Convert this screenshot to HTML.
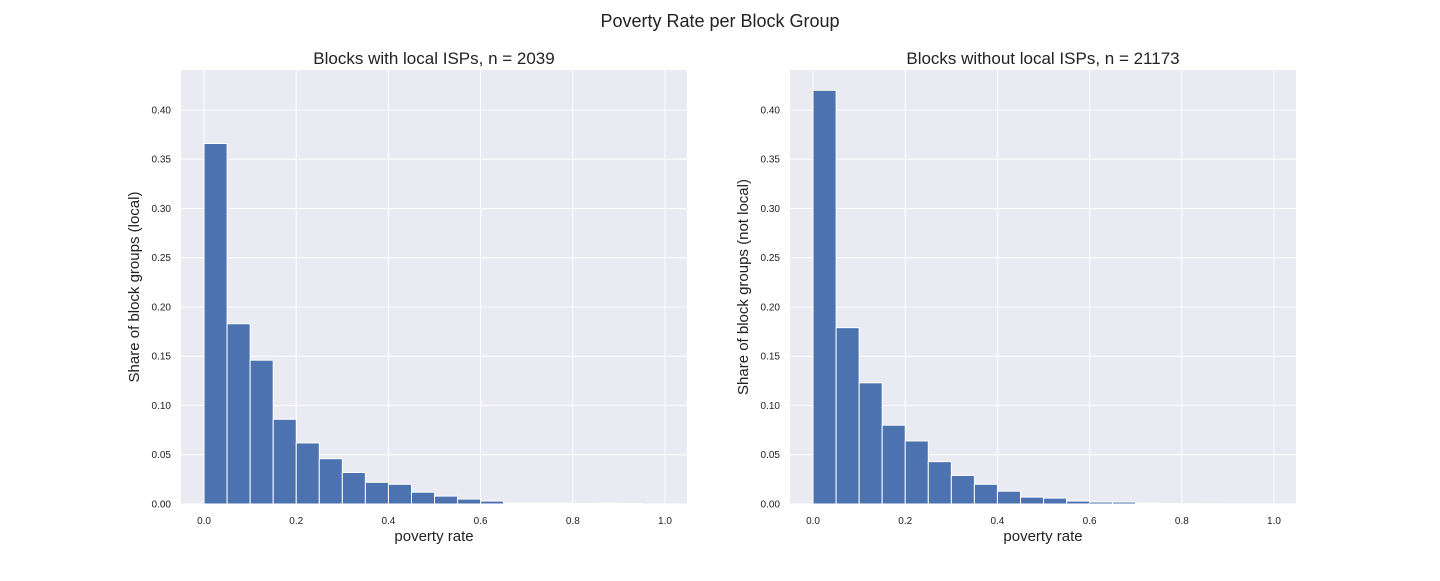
<!DOCTYPE html>
<html><head><meta charset="utf-8"><style>
body{margin:0;background:#fff;font-family:"Liberation Sans",sans-serif}
</style></head><body>
<svg id="fig" width="1440" height="576" xmlns="http://www.w3.org/2000/svg">
<text x="720" y="27" text-anchor="middle" font-size="18" fill="#222">Poverty Rate per Block Group</text>
</svg>
<script>
const binEdgesStart = [0,0.05,0.1,0.15,0.2,0.25,0.3,0.35,0.4,0.45,0.5,0.55,0.6,0.65,0.7,0.75,0.8,0.85,0.9,0.95];
const localValues = [0.366,0.183,0.146,0.086,0.062,0.046,0.032,0.022,0.020,0.012,0.008,0.005,0.003,0.001,0.001,0.001,0.0005,0.001,0.0005,0];
const notLocalValues = [0.420,0.179,0.123,0.080,0.064,0.043,0.029,0.020,0.013,0.007,0.006,0.003,0.002,0.002,0.001,0.0005,0.0003,0.0002,0.0001,0.0001];
const xTicks = [0,0.2,0.4,0.6,0.8,1.0];
const yTicks = [0,0.05,0.1,0.15,0.2,0.25,0.3,0.35,0.4];
const panels = [
 {left:181, title:"Blocks with local ISPs, n = 2039", ylabel:"Share of block groups (local)", vals:localValues, name:"local"},
 {left:790, title:"Blocks without local ISPs, n = 21173", ylabel:"Share of block groups (not local)", vals:notLocalValues, name:"not-local"}
];
const NS="http://www.w3.org/2000/svg", svg=document.getElementById('fig');
function mk(tag,attrs,parent){const e=document.createElementNS(NS,tag);for(const k in attrs)e.setAttribute(k,attrs[k]);(parent||svg).appendChild(e);return e;}
const plotTop=70,plotBottom=504,W=506,xmin=-0.05,xmax=1.0477,ymax=0.4406;
panels.forEach(p=>{
 const g=mk('g',{});
 
 
 const X=v=>p.left+(v-xmin)/(xmax-xmin)*W;
 const Y=v=>plotBottom-v/ymax*(plotBottom-plotTop);
 const bg=mk('rect',{x:p.left,y:plotTop,width:W,height:plotBottom-plotTop,fill:'#eaeaf2'},g);
 
 
 xTicks.forEach(t=>{
  mk('line',{x1:X(t),x2:X(t),y1:plotTop,y2:plotBottom,stroke:'#fff','stroke-width':1},g);
  const tx=mk('text',{x:X(t),y:plotBottom+20,'text-anchor':'middle','font-size':10,fill:'#222'},g);
  tx.textContent=t.toFixed(1);
  
  
 });
 yTicks.forEach(t=>{
  mk('line',{x1:p.left,x2:p.left+W,y1:Y(t),y2:Y(t),stroke:'#fff','stroke-width':1},g);
  const tx=mk('text',{x:p.left-10,y:Y(t)+3.5,'text-anchor':'end','font-size':10,fill:'#222'},g);
  tx.textContent=t.toFixed(2);
  
  
 });
 p.vals.forEach((v,i)=>{
  const x0=X(binEdgesStart[i]),x1=X(binEdgesStart[i]+0.05);
  const r=mk('rect',{x:x0,y:Y(v),width:x1-x0,height:plotBottom-Y(v),fill:'#4c72b0',stroke:'#fff','stroke-width':1},g);
  
  
 });
 const t=mk('text',{x:p.left+W/2,y:64,'text-anchor':'middle','font-size':17,fill:'#222'},g);
 t.textContent=p.title;
 
 
 const xl=mk('text',{x:p.left+W/2,y:541,'text-anchor':'middle','font-size':15,fill:'#222'},g);
 xl.textContent='poverty rate';
 
 
 const yx=p.left-42,yy=(plotTop+plotBottom)/2;
 const yl=mk('text',{x:yx,y:yy,'text-anchor':'middle','font-size':15,fill:'#222',transform:`rotate(-90 ${yx} ${yy})`},g);
 yl.textContent=p.ylabel;
 
 
});
</script>
</body></html>
